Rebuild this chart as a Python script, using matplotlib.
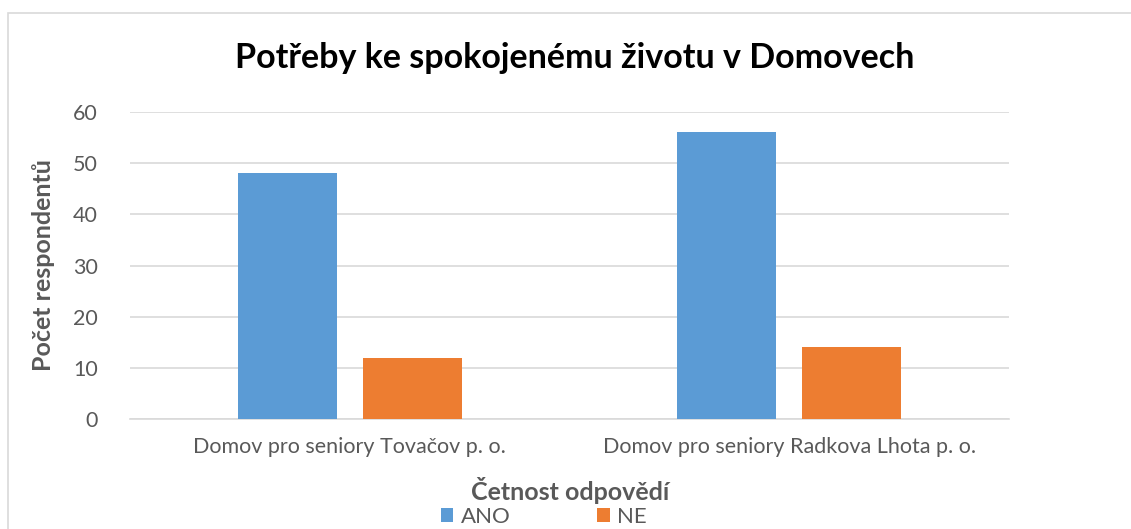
import matplotlib.pyplot as plt
import numpy as np
from matplotlib.patches import Rectangle

categories = ["Domov pro seniory Tovačov p. o.", "Domov pro seniory Radkova Lhota p. o."]
ano = [48, 56]
ne = [12, 14]
series_names = ["ANO", "NE"]
yticks = [0, 10, 20, 30, 40, 50, 60]

plt.rcParams['font.family'] = ['Lato', 'DejaVu Sans']

W, H = 1131, 529
fig = plt.figure(figsize=(W / 100, H / 100), dpi=100)

# chart frame (cut off at right and bottom like the reference)
fig.patches.append(Rectangle((8 / W, -0.1), 1.2, (H - 13) / H + 0.1, transform=fig.transFigure,
                             fill=False, edgecolor='#d9d9d9', linewidth=1.2))

ax = fig.add_axes([130 / W, 1 - 419 / H, (1009 - 130) / W, (419 - 112) / H])

x = np.arange(len(categories))
w = 0.225
b1 = ax.bar(x - 0.142, ano, w, color='#5B9BD5', label=series_names[0], zorder=3)
b2 = ax.bar(x + 0.142, ne, w, color='#ED7D31', label=series_names[1], zorder=3)

ax.set_xlim(-0.5, 1.5)
ax.set_ylim(0, 60)
ax.set_yticks(yticks)
ax.set_xticks(x)
ax.set_xticklabels(categories)
ax.yaxis.grid(True, color='#d9d9d9', linewidth=1.2, zorder=0)
for s in ['top', 'right', 'left']:
    ax.spines[s].set_visible(False)
ax.spines['bottom'].set_color('#d9d9d9')
ax.spines['bottom'].set_linewidth(1.2)
ax.tick_params(length=0, colors='#595959', labelsize=15.5)
ax.tick_params(axis='y', pad=23)
ax.tick_params(axis='x', pad=13)

ax.set_ylabel("Počet respondentů", fontsize=18, fontweight='bold', color='#595959', labelpad=13)

fig.text(575 / W, 1 - 58 / H, "Potřeby ke spokojenému životu v Domovech", ha='center', va='center',
         fontsize=24.5, fontweight='bold', color='black')
fig.text(570 / W, 1 - 490 / H, "Četnost odpovědí", ha='center', va='center',
         fontsize=18, fontweight='bold', color='#595959')

fig.legend(handles=[b1, b2], labels=series_names, loc='center', bbox_to_anchor=(544 / W, 1 - 517 / H),
           ncol=2, frameon=False, fontsize=16, labelcolor='#595959', handlelength=0.55, handleheight=0.55,
           columnspacing=3.9, handletextpad=0.35, borderpad=0)

fig.savefig("out.png", dpi=100)
